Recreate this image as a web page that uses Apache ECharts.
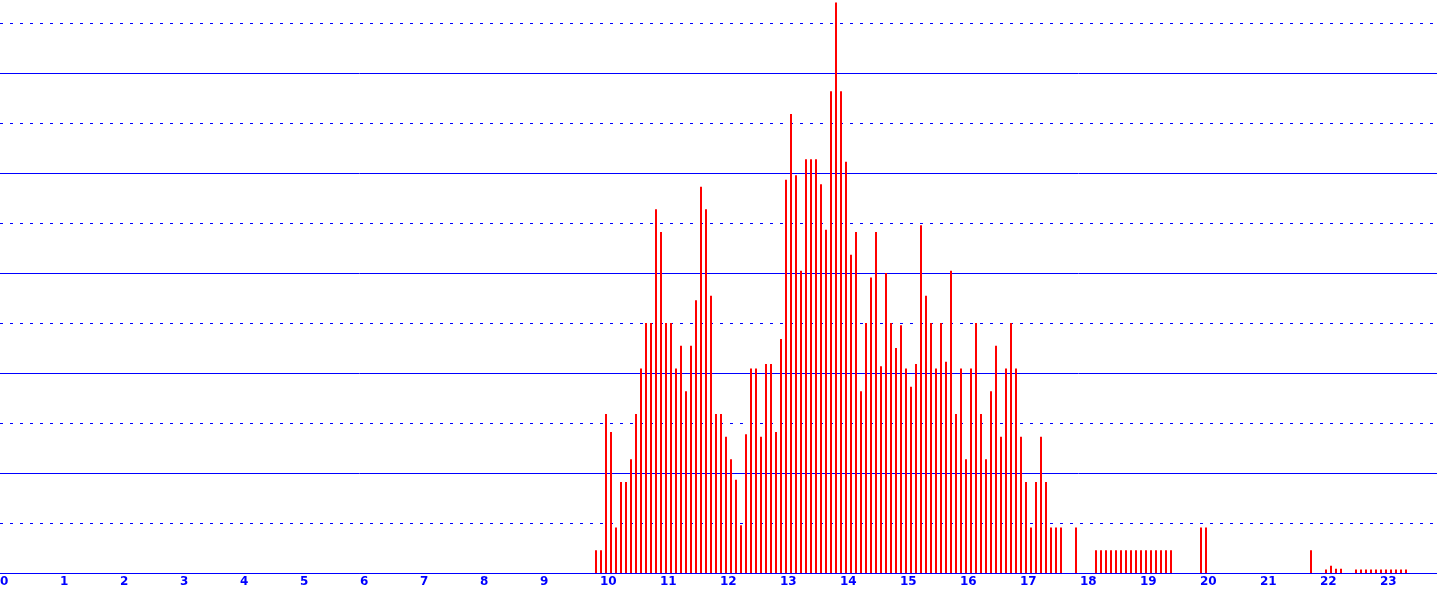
<!DOCTYPE html>
<html>
<head>
<meta charset="utf-8">
<script src="https://cdn.jsdelivr.net/npm/echarts@6/dist/echarts.min.js"></script>
<style>
  html, body { margin: 0; padding: 0; background: #ffffff; }
  #chart { width: 1437px; height: 593px; }
</style>
</head>
<body>
<div id="chart"></div>
<script>
// Counts per 5-minute slot, one array per hour (minute 00, 05, ..., 55)
const hour09 = [0, 0, 0, 0, 0, 0, 0, 0, 0, 0, 0, 1];
const hour10 = [1, 7, 6.2, 2, 4, 4, 5, 7, 9, 11, 11, 16];
const hour11 = [15, 11, 11, 9, 10, 8, 10, 12, 17, 16, 12.2, 7];
const hour12 = [7, 6, 5, 4.1, 2.1, 6.1, 9, 9, 6, 9.2, 9.2, 6.2];
const hour13 = [10.3, 17.3, 20.2, 17.5, 13.3, 18.2, 18.2, 18.2, 17.1, 15.1, 21.2, 25.1];
const hour14 = [21.2, 18.1, 14, 15, 8, 11, 13, 15, 9.1, 13.2, 11, 9.9];
const hour15 = [10.9, 9, 8.2, 9.2, 15.3, 12.2, 11, 9, 11, 9.3, 13.3, 7];
const hour16 = [9, 5, 9, 11, 7, 5, 8, 10, 6, 9, 11, 9];
const hour17 = [6, 4, 2, 4, 6, 4, 2, 2, 2, 0, 0, 2];
const hour18 = [0, 0, 0, 1, 1, 1, 1, 1, 1, 1, 1, 1];
const hour19 = [1, 1, 1, 1, 1, 1, 1, 0, 0, 0, 0, 0];
const hour20 = [2, 2, 0, 0, 0, 0, 0, 0, 0, 0, 0, 0];
const hour21 = [0, 0, 0, 0, 0, 0, 0, 0, 0, 0, 1, 0];
const hour22 = [0, 0.15, 0.32, 0.19, 0.19, 0, 0, 0.15, 0.15, 0.15, 0.15, 0.15];
const hour23 = [0.15, 0.15, 0.15, 0.15, 0.15, 0.15];

const hourLabels = ['0','1','2','3','4','5','6','7','8','9','10','11','12','13','14','15','16','17','18','19','20','21','22','23'];
const hourBlocks = [[9, hour09], [10, hour10], [11, hour11], [12, hour12], [13, hour13],
  [14, hour14], [15, hour15], [16, hour16], [17, hour17], [18, hour18], [19, hour19],
  [20, hour20], [21, hour21], [22, hour22], [23, hour23]];

const SLOT_MIN = 5;
const BAR_CENTER = 1; // a 2-minute-wide bar drawn at the start of its slot
const barData = [];
hourBlocks.forEach(([h, arr]) => {
  arr.forEach((v, k) => {
    if (v > 0) barData.push([h * 60 + k * SLOT_MIN + BAR_CENTER, v]);
  });
});

const BLUE = '#0000ff';
const chart = echarts.init(document.getElementById('chart'), null, { renderer: 'canvas' });
chart.setOption({
  animation: false,
  backgroundColor: '#ffffff',
  grid: { left: 0, top: -27, width: 1440, height: 600, containLabel: false, outerBoundsMode: 'none' },
  xAxis: {
    type: 'value', min: 0, max: 1440, interval: 60,
    axisLine: { show: true, lineStyle: { color: BLUE, width: 1 } },
    axisTick: { show: false },
    splitLine: { show: false },
    axisLabel: {
      color: BLUE, fontFamily: 'DejaVu Sans', fontWeight: 'bold', fontSize: 12,
      align: 'left', margin: 3, showMaxLabel: false,
      formatter: v => (v < 1440 ? hourLabels[Math.round(v / 60)] : '')
    }
  },
  yAxis: [
    {
      type: 'value', min: 0, max: 26.4, interval: 4.4,
      axisLine: { show: false }, axisTick: { show: false }, axisLabel: { show: false },
      splitLine: { show: true, lineStyle: { color: BLUE, width: 1, type: 'solid' } }
    },
    {
      type: 'value', min: 0, max: 26.4, interval: 2.2, position: 'left',
      axisLine: { show: false }, axisTick: { show: false }, axisLabel: { show: false },
      splitLine: { show: true, lineStyle: { color: BLUE, width: 1, type: [3, 7], dashOffset: 0 } }
    }
  ],
  series: [{
    type: 'bar',
    yAxisIndex: 0,
    data: barData,
    barWidth: 2,
    itemStyle: { color: '#ff0000' },
    z: 3
  }]
});
</script>
</body>
</html>
